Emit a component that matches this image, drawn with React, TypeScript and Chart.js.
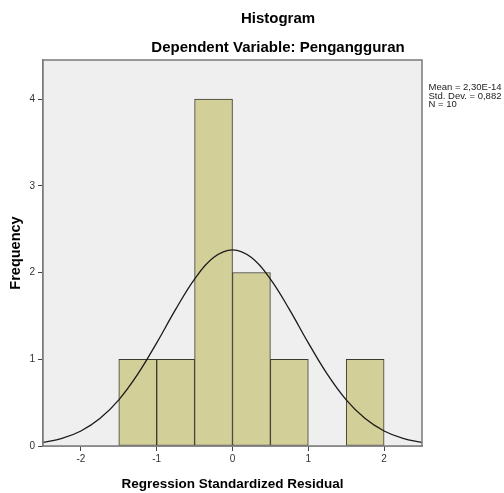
import React, { useEffect, useRef } from "react";
import { Chart, registerables } from "chart.js";

Chart.register(...registerables);

const binCenters = [-1.25, -0.75, -0.25, 0.25, 0.75, 1.25, 1.75];
const frequencies = [1, 1, 4, 2, 1, 0, 1];
const curveX = [-2.5, -2.25, -2, -1.75, -1.5, -1.25, -1, -0.75, -0.5, -0.25, 0, 0.25, 0.5, 0.75, 1, 1.25, 1.5, 1.75, 2, 2.25, 2.5];
const curveY = [0.041, 0.087, 0.173, 0.316, 0.532, 0.828, 1.189, 1.575, 1.925, 2.172, 2.261, 2.172, 1.925, 1.575, 1.189, 0.828, 0.532, 0.316, 0.173, 0.087, 0.041];
const xTicks = [-2, -1, 0, 1, 2];
const yTicks = [0, 1, 2, 3, 4];
const statsLines = ["Mean = 2,30E-14", "Std. Dev. = 0,882", "N = 10"];
const titleText = "Histogram";
const subtitleText = "Dependent Variable: Pengangguran";
const xTitle = "Regression Standardized Residual";
const yTitle = "Frequency";

const FONT = "'Liberation Sans', Arial, sans-serif";

const decorPlugin = {
  id: "decor",
  beforeDatasetsDraw(chart: any) {
    const { ctx, chartArea } = chart;
    ctx.save();
    ctx.fillStyle = "#efefef";
    ctx.fillRect(chartArea.left, chartArea.top, chartArea.right - chartArea.left, chartArea.bottom - chartArea.top);
    ctx.restore();
  },
  afterDraw(chart: any) {
    const { ctx, chartArea } = chart;
    ctx.save();
    ctx.strokeStyle = "#7a7a7a";
    ctx.lineWidth = 1.5;
    ctx.strokeRect(chartArea.left, chartArea.top, chartArea.right - chartArea.left, chartArea.bottom - chartArea.top);
    ctx.fillStyle = "#000";
    ctx.textAlign = "center";
    ctx.textBaseline = "middle";
    ctx.font = `bold 15px ${FONT}`;
    ctx.fillText(titleText, 278, 18.5);
    ctx.fillText(subtitleText, 278, 48);
    ctx.textAlign = "left";
    ctx.font = `9.5px ${FONT}`;
    ctx.fillStyle = "#222";
    statsLines.forEach((s, i) => ctx.fillText(s, 428.5, 87.5 + i * 8.4));
    ctx.restore();
  },
};

export default function App() {
  const ref = useRef<HTMLCanvasElement>(null);
  useEffect(() => {
    if (!ref.current) return;
    const chart = new Chart(ref.current, {
      type: "bar",
      data: {
        datasets: [
          {
            type: "line",
            data: curveX.map((x, i) => ({ x, y: curveY[i] })),
            borderColor: "#1a1a1a",
            borderWidth: 1.3,
            pointRadius: 0,
            tension: 0.4,
            fill: false,
            order: 0,
          } as any,
          {
            type: "bar",
            data: binCenters.map((x, i) => ({ x, y: frequencies[i] })),
            backgroundColor: "#d3cf98",
            borderColor: "#3a3a30",
            borderWidth: 1,
            borderSkipped: false,
            barPercentage: 1,
            categoryPercentage: 1,
            order: 1,
          } as any,
        ],
      },
      options: {
        animation: false,
        responsive: false,
        layout: { padding: { left: 0, top: 60, right: 82, bottom: 0 } },
        plugins: { legend: { display: false }, tooltip: { enabled: false } },
        scales: {
          x: {
            type: "linear",
            min: -2.5,
            max: 2.5,
            offset: false,
            afterBuildTicks: (s: any) => {
              s.ticks = xTicks.map((v) => ({ value: v }));
            },
            afterFit: (s: any) => {
              s.height = 47;
            },
            grid: { offset: false, drawOnChartArea: false, drawTicks: true, tickLength: 5, color: "#444", lineWidth: 1 },
            border: { display: true, color: "#7a7a7a", width: 1.5 },
            ticks: { font: { family: FONT, size: 10 }, color: "#333", padding: 2, maxRotation: 0 },
            title: { display: true, text: xTitle, font: { family: FONT, size: 13.5, weight: "bold" }, color: "#000", padding: { top: 0, bottom: 1 } },
          },
          y: {
            type: "linear",
            min: 0,
            max: 4.45,
            afterBuildTicks: (s: any) => {
              s.ticks = yTicks.map((v) => ({ value: v }));
            },
            afterFit: (s: any) => {
              s.width = 43;
            },
            grid: { drawOnChartArea: false, drawTicks: true, tickLength: 5, color: "#444", lineWidth: 1 },
            border: { display: true, color: "#7a7a7a", width: 1.5 },
            ticks: { font: { family: FONT, size: 10 }, color: "#333", padding: 3 },
            title: { display: true, text: yTitle, font: { family: FONT, size: 14.5, weight: "bold" }, color: "#000", padding: { top: 7, bottom: 0 } },
          },
        },
      },
      plugins: [decorPlugin],
    });
    return () => chart.destroy();
  }, []);
  return (
    <div style={{ position: "absolute", left: 0, top: 0, width: 504, height: 493, background: "#fff" }}>
      <canvas ref={ref} width={504} height={493} style={{ width: 504, height: 493 }} />
    </div>
  );
}
